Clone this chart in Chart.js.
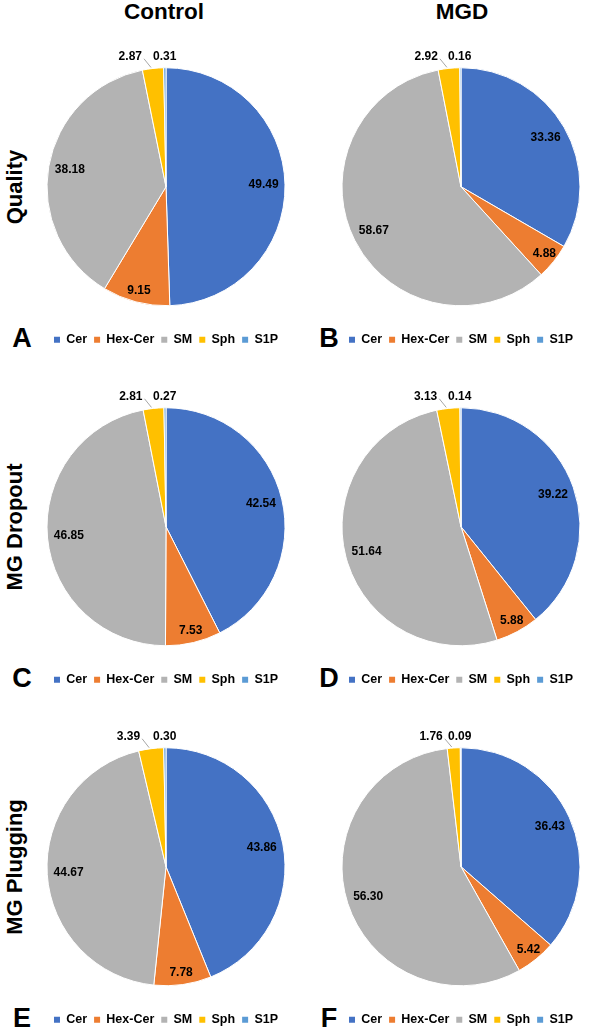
<!DOCTYPE html>
<html>
<head>
<meta charset="utf-8">
<script src="https://cdn.jsdelivr.net/npm/chart.js@4.4.1/dist/chart.umd.min.js"></script>
<style>
body{margin:0;background:#fff;}
#page{position:relative;width:589px;height:1032px;overflow:hidden;font-family:"Liberation Sans",Arial,sans-serif;color:#000;}
.hdr{position:absolute;font-weight:bold;font-size:22.5px;line-height:1;white-space:nowrap;transform:translate(-50%,-50%);}
.side{position:absolute;font-weight:bold;font-size:22px;line-height:1;white-space:nowrap;transform:translate(-50%,-50%) rotate(-90deg);}
.letter{position:absolute;font-weight:bold;font-size:27px;line-height:1;transform:translate(-50%,-50%);}
.pane{position:absolute;width:280px;height:309px;}
</style>
</head>
<body>
<div id="page"></div>
<script>
// lipid shares (%) per panel, order follows categories
const categories = ['Cer', 'Hex-Cer', 'SM', 'Sph', 'S1P'];
const controlQuality = [49.49, 9.15, 38.18, 2.87, 0.31];
const mgdQuality = [33.36, 4.88, 58.67, 2.92, 0.16];
const controlDropout = [42.54, 7.53, 46.85, 2.81, 0.27];
const mgdDropout = [39.22, 5.88, 51.64, 3.13, 0.14];
const controlPlugging = [43.86, 7.78, 44.67, 3.39, 0.30];
const mgdPlugging = [36.43, 5.42, 56.30, 1.76, 0.09];

const columnTitles = ['Control', 'MGD'];
const rowTitles = ['Quality', 'MG Dropout', 'MG Plugging'];
const panelLetters = ['A', 'B', 'C', 'D', 'E', 'F'];
const colors = ['#4472C4', '#ED7D31', '#B3B3B3', '#FFC000', '#5B9BD5'];

const panels = [
  [controlQuality, mgdQuality],
  [controlDropout, mgdDropout],
  [controlPlugging, mgdPlugging]
];

const FONT = '"Liberation Sans", Arial, sans-serif';
const colX = [166, 461];
const R = 119;
const page = document.getElementById('page');

function addDiv(cls, text, x, y) {
  const d = document.createElement('div');
  d.className = cls;
  d.textContent = text;
  d.style.left = x + 'px';
  d.style.top = y + 'px';
  page.appendChild(d);
}

// value labels: inside for big slices, above the pie for the tiny ones
const pieLabels = {
  id: 'pieLabels',
  afterDatasetsDraw(chart) {
    const ctx = chart.ctx;
    const arcs = chart.getDatasetMeta(0).data;
    const vals = chart.data.datasets[0].data;
    ctx.save();
    ctx.font = 'bold 12px ' + FONT;
    ctx.fillStyle = '#000';
    ctx.textBaseline = 'middle';
    arcs.forEach((arc, i) => {
      const p = arc.getProps(['x', 'y', 'startAngle', 'endAngle', 'outerRadius'], true);
      const mid = (p.startAngle + p.endAngle) / 2;
      const txt = vals[i].toFixed(2);
      if (vals[i] >= 4) {
        const k = vals[i] < 10 ? 0.9 : 0.82;
        ctx.textAlign = 'center';
        ctx.fillText(txt, p.x + Math.cos(mid) * p.outerRadius * k, p.y + Math.sin(mid) * p.outerRadius * k);
      } else {
        const ty = p.y - p.outerRadius - 11;
        const ax = p.x + Math.cos(mid) * p.outerRadius;
        const ay = p.y + Math.sin(mid) * p.outerRadius;
        if (i === arcs.length - 1) {
          ctx.textAlign = 'left';
          ctx.fillText(txt, p.x - 13, ty);
        } else {
          ctx.textAlign = 'right';
          ctx.fillText(txt, ax - 11, ty);
          ctx.strokeStyle = '#A6A6A6';
          ctx.lineWidth = 1;
          ctx.beginPath();
          ctx.moveTo(ax - 9, ty + 2);
          ctx.lineTo(ax - 2, ay - 1);
          ctx.stroke();
        }
      }
    });
    ctx.restore();
  }
};

columnTitles.forEach((t, c) => addDiv('hdr', t, c === 0 ? 164 : 462, 12));

panels.forEach((row, r) => {
  const cy = 187 + 340 * r;
  addDiv('side', rowTitles[r], 15, cy);
  row.forEach((vals, c) => {
    const cx = colX[c];
    addDiv('letter', panelLetters[r * 2 + c], c === 0 ? 22 : 329, cy + 151);
    const pane = document.createElement('div');
    pane.className = 'pane';
    pane.style.left = (cx - 140) + 'px';
    pane.style.top = (cy - 140) + 'px';
    const cv = document.createElement('canvas');
    pane.appendChild(cv);
    page.appendChild(pane);

    new Chart(cv, {
      type: 'pie',
      data: {
        labels: categories,
        datasets: [{
          data: vals,
          backgroundColor: colors,
          borderColor: '#fff',
          borderWidth: 1,
          radius: R
        }]
      },
      options: {
        responsive: true,
        maintainAspectRatio: false,
        animation: false,
        layout: {padding: 0},
        plugins: {
          tooltip: {enabled: false},
          legend: {
            display: true,
            position: 'bottom',
            labels: {
              color: '#000',
              boxWidth: 6,
              boxHeight: 6,
              padding: 7,
              font: {family: FONT, size: 12.5, weight: 'bold'},
              generateLabels(chart) {
                const items = Chart.overrides.pie.plugins.legend.labels.generateLabels(chart);
                items.forEach(it => { it.lineWidth = 0; });
                return items;
              }
            }
          }
        }
      },
      plugins: [pieLabels]
    });
  });
});
</script>
</body>
</html>
